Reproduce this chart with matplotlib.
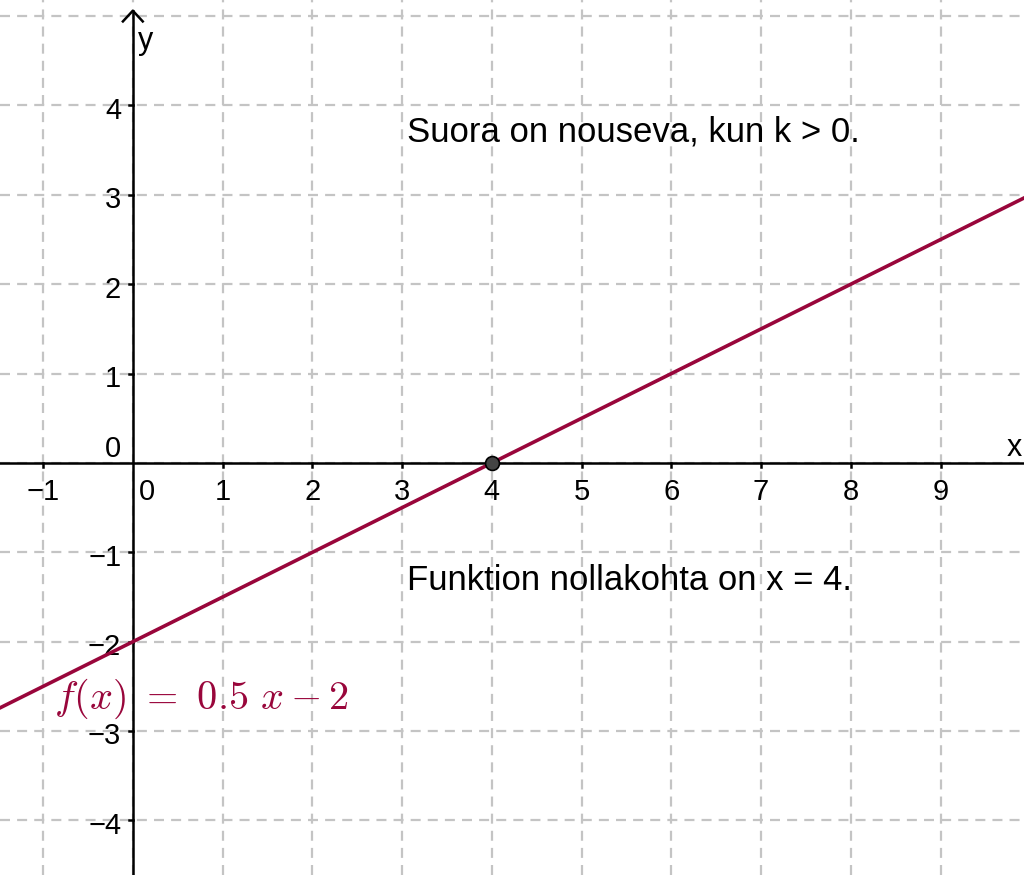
import numpy as np
import matplotlib.pyplot as plt

plt.rcParams['font.family'] = ['Liberation Sans', 'DejaVu Sans']
plt.rcParams['mathtext.fontset'] = 'cm'

# funktio f(x) = k x + b
k = 0.5
b = -2
zero_x = 4

x_ticks = [-1, 0, 1, 2, 3, 4, 5, 6, 7, 8, 9]
y_ticks = [-4, -3, -2, -1, 0, 1, 2, 3, 4]
grid_x = [-1, 0, 1, 2, 3, 4, 5, 6, 7, 8, 9]
grid_y = [-4, -3, -2, -1, 0, 1, 2, 3, 4, 5]

xmin, xmax = -1.48, 9.93
ymin, ymax = -4.61, 5.18

line_col = '#99063b'
grid_col = '#c4c4c4'

fig = plt.figure(figsize=(10.24, 8.75), dpi=100)
ax = fig.add_axes([0, 0, 1, 1])
ax.set_xlim(xmin, xmax)
ax.set_ylim(ymin, ymax)
ax.axis('off')

# ruudukko
for gx in grid_x:
    ax.axvline(gx, color=grid_col, lw=1.6, ls=(0, (4.5, 3.2)), zorder=1)
for gy in grid_y:
    ax.axhline(gy, color=grid_col, lw=1.6, ls=(0, (4.5, 3.2)), zorder=1)

# akselit
ax.plot([xmin, xmax], [0, 0], color='black', lw=1.8, zorder=3)
ax.plot([0, 0], [ymin, 5.06], color='black', lw=1.8, zorder=3)
ax.plot([-0.12, 0, 0.12], [4.93, 5.06, 4.93], color='black', lw=1.8,
        zorder=3, solid_capstyle='butt')

# tikit
for t in x_ticks:
    if t != 0:
        ax.plot([t, t], [0, -0.05], color='black', lw=1.8, zorder=3)
        ax.text(t, -0.17, str(t).replace('-', '\u2212'), ha='center', va='top',
                fontsize=21)
for t in y_ticks:
    if t != 0:
        ax.plot([-0.04, 0], [t, t], color='black', lw=1.8, zorder=3)
        ax.text(-0.13, t - 0.06, str(t).replace('-', '\u2212'), ha='right',
                va='center', fontsize=21)
ax.text(-0.13, 0.16, '0', ha='right', va='center', fontsize=21)
ax.text(0.07, -0.17, '0', ha='left', va='top', fontsize=21)

ax.text(0.06, 4.72, 'y', ha='left', va='center', fontsize=22)
ax.text(9.74, 0.17, 'x', ha='left', va='center', fontsize=22)

# suora ja nollakohta
xs = np.array([xmin, xmax])
ax.plot(xs, k * xs + b, color=line_col, lw=2.6, zorder=4)
ax.plot([zero_x], [k * zero_x + b], 'o', ms=10, mfc='#444444', mec='black',
        mew=1.2, zorder=5)

ax.text(3.05, 3.70, 'Suora on nouseva, kun k > 0.', ha='left', va='center',
        fontsize=25)
ax.text(3.05, -1.31, 'Funktion nollakohta on x = 4.', ha='left', va='center',
        fontsize=25)
ax.text(-0.88, -2.64, r'$f(x)\ =\ 0.5\ x - 2$', ha='left', va='center',
        fontsize=29, color=line_col, zorder=6)

fig.savefig('out.png', dpi=100)
